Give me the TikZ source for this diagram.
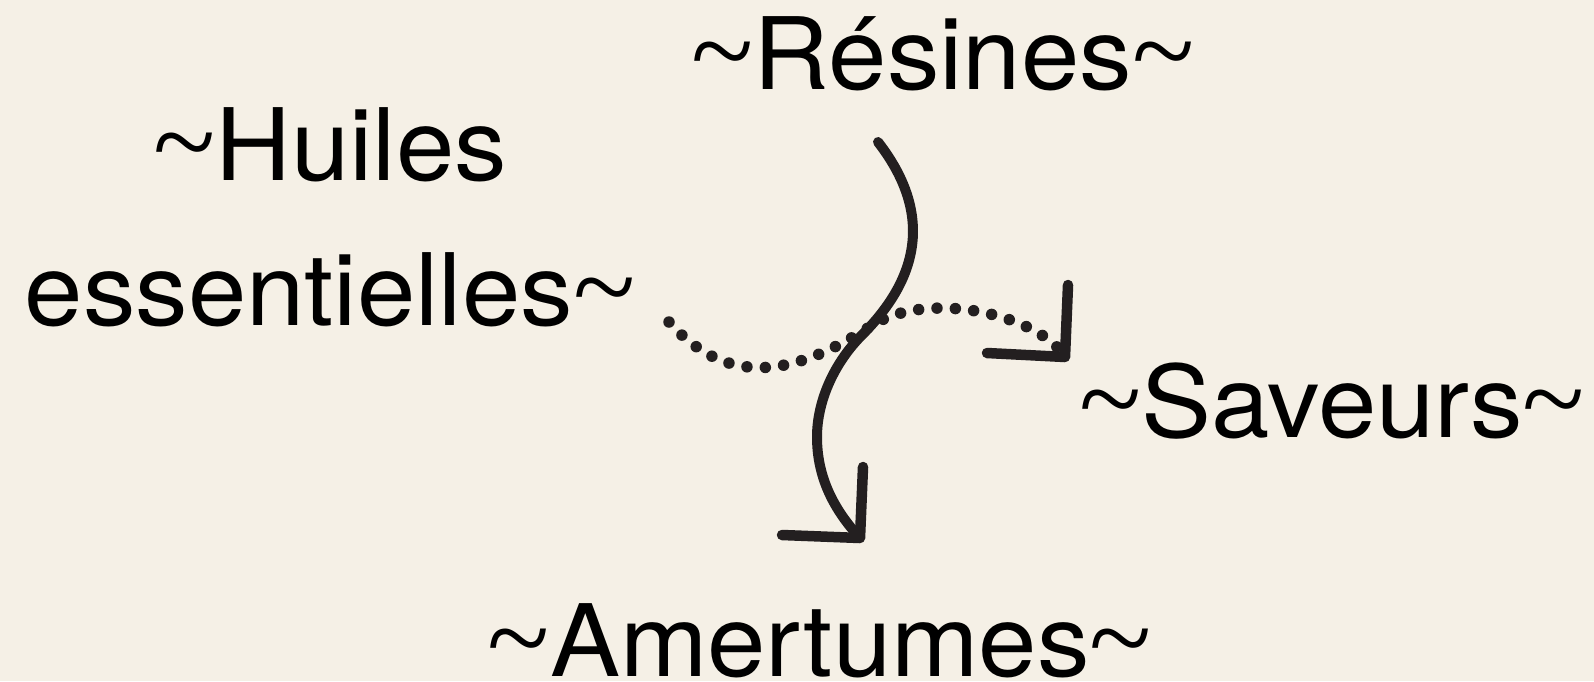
\documentclass[tikz,border=0pt]{standalone}
\usepackage{fontspec}
\setmainfont[FakeStretch=1.05]{TeX Gyre Heros}
\newfontfamily\tildefont[Scale=1.15]{Liberation Serif}
\newcommand\tld{{\tildefont\char"007E}}
\definecolor{bg}{HTML}{F5F0E6}
\definecolor{ink}{HTML}{231F20}
\begin{document}
\begin{tikzpicture}[x=1pt,y=-1pt,
  lbl/.style={anchor=base, inner sep=0pt, font=\fontsize{100}{145}\selectfont, text=black},
  solidarrow/.style={draw=ink, line width=10pt, line cap=round},
  dotarrow/.style={draw=ink, line width=11.5pt, line cap=round, dash pattern=on 0pt off 18.4pt},
  headstyle/.style={draw=ink, line width=10.5pt, line cap=round, line join=round}]
\fill[bg] (0,0) rectangle (1594,681);
\useasboundingbox (0,0) rectangle (1594,681);

\node[lbl] (resines) at (943,89.5) {\tld Résines\tld};
\node[lbl, align=center] (huiles) at (330,325) {\tld Huiles\\essentielles\tld};
\node[lbl] (saveurs) at (1332,437) {\tld Saveurs\tld};
\node[lbl] (amertumes) at (820,676) {\tld Amertumes\tld};

% solid connector Résines -> Amertumes
\coordinate (r0) at (878,142);
\coordinate (r1) at (862,335);
\coordinate (r2) at (817,437);
\coordinate (r3) at (853,530);
\draw[solidarrow] (r0) .. controls (940,222) and (910,287) .. (r1)
  .. controls (835,362) and (817,400) .. (r2)
  .. controls (817,475) and (832,505) .. (r3);
\coordinate (ahl) at (782,535);
\coordinate (ah) at (860,538);
\coordinate (ahu) at (863,467);
\draw[headstyle] (ahl) -- (ah) -- (ahu);

% dotted connector Huiles essentielles -> Saveurs
\coordinate (d0) at (669,322);
\coordinate (dm) at (871,326);
\coordinate (d1) at (1058,348);
\draw[dotarrow] (d0) .. controls (729,389) and (795,375) .. (dm)
  .. controls (925,291) and (1023,312) .. (d1);
\coordinate (bhl) at (987,353);
\coordinate (bh) at (1065,357);
\coordinate (bhu) at (1068,285);
\draw[headstyle] (bhl) -- (bh) -- (bhu);
\end{tikzpicture}
\end{document}
